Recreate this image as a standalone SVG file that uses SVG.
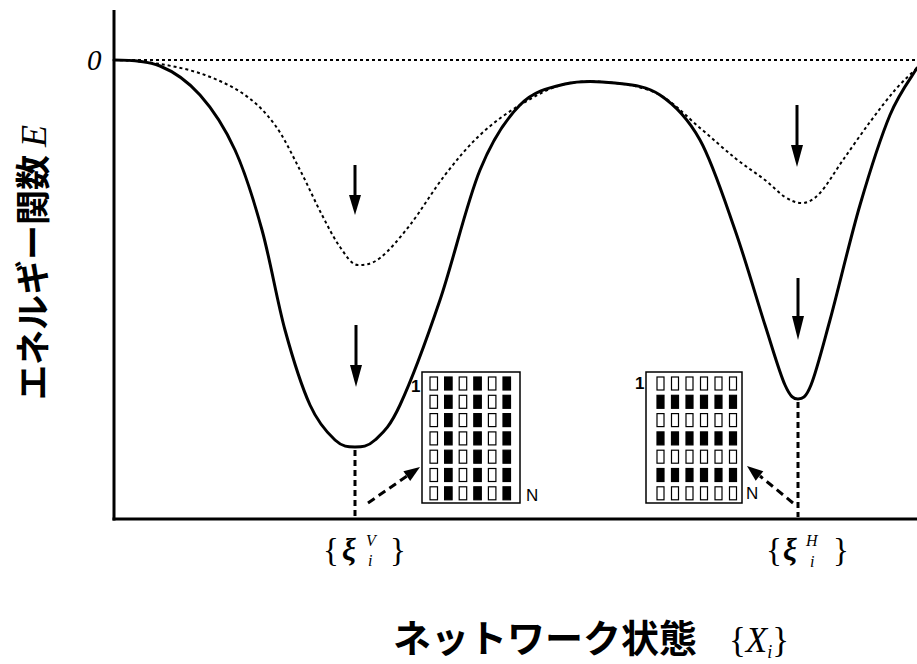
<svg xmlns="http://www.w3.org/2000/svg" width="917" height="664" viewBox="0 0 917 664">
<style>
.ax{stroke:#000;stroke-width:3;fill:none}
.solid{stroke:#000;stroke-width:3;fill:none;stroke-linecap:round}
.dot{stroke:#000;stroke-width:2;fill:none;stroke-dasharray:3 3}
.vdash{stroke:#000;stroke-width:3;fill:none;stroke-dasharray:6 4}
.ddash{stroke:#000;stroke-width:3;fill:none;stroke-dasharray:8 5}
.shaft{stroke:#000;stroke-width:3;fill:none}
.head{fill:#000}
.box{fill:#fff;stroke:#000;stroke-width:1.5}
.w{fill:#fff;stroke:#000;stroke-width:1.2}
.b{fill:#000;stroke:#000;stroke-width:1.2}
.lbl{font-family:"Liberation Sans",Arial,sans-serif;font-weight:bold;font-size:17px;fill:#000}
.nl{font-family:"Liberation Sans",Arial,sans-serif;font-size:17px;fill:#000}
.ser{font-family:"Liberation Serif","Times New Roman",serif;fill:#000}
.jp{font-family:"Noto Sans CJK JP","Noto Sans",sans-serif;font-weight:bold;fill:#000}
</style>
<rect width="917" height="664" fill="#fff"/>
<g id="axes">
<line class="ax" x1="114" y1="10" x2="114" y2="520.5"/>
<line class="ax" x1="112.5" y1="519" x2="917" y2="519"/>
<line class="dot" x1="114" y1="60" x2="917" y2="60"/>
<text class="ser" x="87" y="70" font-size="29" font-style="italic">0</text>
</g>
<g id="curves">
<path class="dot" d="M114,60 C122,60 144.8,61.5 160,64 C175.2,66.5 190.8,69.8 205,75 C219.2,80.2 233.3,86.7 245,95 C256.7,103.3 265.8,112.5 275,125 C284.2,137.5 292.2,155 300,170 C307.8,185 315.3,202.2 322,215 C328.7,227.8 334,238.7 340,247 C346,255.3 351.3,265 358,265 C364.7,265 371.3,264.7 380,258 C388.7,251.3 399.2,238.8 410,225 C420.8,211.2 433.3,190 445,175 C456.7,160 467.5,146.7 480,135 C492.5,123.3 505.8,113.5 520,105 C534.2,96.5 549.2,87.7 565,84 C580.8,80.3 599.2,81.2 615,83 C630.8,84.8 645.8,87.5 660,95 C674.2,102.5 687.5,117.5 700,128 C712.5,138.5 724.2,149.3 735,158 C745.8,166.7 756.7,173.5 765,180 C773.3,186.5 778.8,193.2 785,197 C791.2,200.8 796.2,203 802,203 C807.8,203 813.2,200.2 820,193 C826.8,185.8 834.7,171.8 843,160 C851.3,148.2 861.3,133.7 870,122 C878.7,110.3 887.2,99 895,90 C902.8,81 913.3,71.7 917,68"/>
<path class="solid" d="M114,60 C122,60 145.7,60.2 160,66 C174.3,71.8 187.5,81 200,95 C212.5,109 224.7,127.5 235,150 C245.3,172.5 253.7,200 262,230 C270.3,260 277,300.8 285,330 C293,359.2 301.7,386.7 310,405 C318.3,423.3 327.5,433 335,440 C342.5,447 348.3,447 355,447 C361.7,447 367.5,447 375,440 C382.5,433 389.2,428.3 400,405 C410.8,381.7 426.7,339.2 440,300 C453.3,260.8 466.7,202.5 480,170 C493.3,137.5 505.8,119.3 520,105 C534.2,90.7 549.2,87.7 565,84 C580.8,80.3 599.2,81.2 615,83 C630.8,84.8 645.8,85.5 660,95 C674.2,104.5 687.5,117.5 700,140 C712.5,162.5 724.2,199.2 735,230 C745.8,260.8 756.7,299.2 765,325 C773.3,350.8 779.5,372.7 785,385 C790.5,397.3 793.7,399 798,399 C802.3,399 805.7,398.2 811,385 C816.3,371.8 821.8,350 830,320 C838.2,290 850,239.2 860,205 C870,170.8 880.5,137.8 890,115 C899.5,92.2 912.5,75.8 917,68"/>
</g>
<g id="connectors">
<line class="shaft" x1="355" y1="165" x2="355" y2="198"/>
<polygon class="head" points="349,195 361,195 355,215"/>
<line class="shaft" x1="356" y1="325" x2="356" y2="368"/>
<polygon class="head" points="350,365 362,365 356,387"/>
<line class="shaft" x1="797" y1="105" x2="797" y2="148"/>
<polygon class="head" points="791,145 803,145 797,167"/>
<line class="shaft" x1="798" y1="278" x2="798" y2="319"/>
<polygon class="head" points="792,316 804,316 798,340"/>
<line class="vdash" x1="355" y1="450" x2="355" y2="517"/>
<line class="vdash" x1="798" y1="402" x2="798" y2="517"/>
<line class="ddash" x1="368" y1="503" x2="407" y2="476"/>
<polygon class="head" points="420,467 410.2,481 403.4,471.2"/>
<line class="ddash" x1="793" y1="503" x2="760" y2="476"/>
<polygon class="head" points="747,466 763.3,471.3 755.7,480.7"/>
</g>
<g id="node-vertical">
<rect class="box" x="422" y="372" width="98" height="131"/>
<text class="lbl" x="411" y="392">1</text>
<text class="nl" x="526" y="501">N</text>
<g id="vcells">
<rect class="w" x="430" y="377" width="7.5" height="13"/><rect class="b" x="444.6" y="377" width="7.5" height="13"/><rect class="w" x="459.2" y="377" width="7.5" height="13"/><rect class="b" x="473.8" y="377" width="7.5" height="13"/><rect class="w" x="488.4" y="377" width="7.5" height="13"/><rect class="b" x="503" y="377" width="7.5" height="13"/>
<rect class="w" x="430" y="395.3" width="7.5" height="13"/><rect class="b" x="444.6" y="395.3" width="7.5" height="13"/><rect class="w" x="459.2" y="395.3" width="7.5" height="13"/><rect class="b" x="473.8" y="395.3" width="7.5" height="13"/><rect class="w" x="488.4" y="395.3" width="7.5" height="13"/><rect class="b" x="503" y="395.3" width="7.5" height="13"/>
<rect class="w" x="430" y="413.6" width="7.5" height="13"/><rect class="b" x="444.6" y="413.6" width="7.5" height="13"/><rect class="w" x="459.2" y="413.6" width="7.5" height="13"/><rect class="b" x="473.8" y="413.6" width="7.5" height="13"/><rect class="w" x="488.4" y="413.6" width="7.5" height="13"/><rect class="b" x="503" y="413.6" width="7.5" height="13"/>
<rect class="w" x="430" y="431.9" width="7.5" height="13"/><rect class="b" x="444.6" y="431.9" width="7.5" height="13"/><rect class="w" x="459.2" y="431.9" width="7.5" height="13"/><rect class="b" x="473.8" y="431.9" width="7.5" height="13"/><rect class="w" x="488.4" y="431.9" width="7.5" height="13"/><rect class="b" x="503" y="431.9" width="7.5" height="13"/>
<rect class="w" x="430" y="450.2" width="7.5" height="13"/><rect class="b" x="444.6" y="450.2" width="7.5" height="13"/><rect class="w" x="459.2" y="450.2" width="7.5" height="13"/><rect class="b" x="473.8" y="450.2" width="7.5" height="13"/><rect class="w" x="488.4" y="450.2" width="7.5" height="13"/><rect class="b" x="503" y="450.2" width="7.5" height="13"/>
<rect class="w" x="430" y="468.5" width="7.5" height="13"/><rect class="b" x="444.6" y="468.5" width="7.5" height="13"/><rect class="w" x="459.2" y="468.5" width="7.5" height="13"/><rect class="b" x="473.8" y="468.5" width="7.5" height="13"/><rect class="w" x="488.4" y="468.5" width="7.5" height="13"/><rect class="b" x="503" y="468.5" width="7.5" height="13"/>
<rect class="w" x="430" y="486.8" width="7.5" height="13"/><rect class="b" x="444.6" y="486.8" width="7.5" height="13"/><rect class="w" x="459.2" y="486.8" width="7.5" height="13"/><rect class="b" x="473.8" y="486.8" width="7.5" height="13"/><rect class="w" x="488.4" y="486.8" width="7.5" height="13"/><rect class="b" x="503" y="486.8" width="7.5" height="13"/>
</g>
</g>
<g id="node-horizontal">
<rect class="box" x="646" y="372" width="96" height="131"/>
<text class="lbl" x="635" y="389">1</text>
<text class="nl" x="746" y="499">N</text>
<g id="hcells">
<rect class="w" x="657" y="377" width="7" height="13"/><rect class="w" x="671.5" y="377" width="7" height="13"/><rect class="w" x="686" y="377" width="7" height="13"/><rect class="w" x="700.5" y="377" width="7" height="13"/><rect class="w" x="715" y="377" width="7" height="13"/><rect class="w" x="729.5" y="377" width="7" height="13"/>
<rect class="b" x="657" y="395.3" width="7" height="13"/><rect class="b" x="671.5" y="395.3" width="7" height="13"/><rect class="b" x="686" y="395.3" width="7" height="13"/><rect class="b" x="700.5" y="395.3" width="7" height="13"/><rect class="b" x="715" y="395.3" width="7" height="13"/><rect class="b" x="729.5" y="395.3" width="7" height="13"/>
<rect class="w" x="657" y="413.6" width="7" height="13"/><rect class="w" x="671.5" y="413.6" width="7" height="13"/><rect class="w" x="686" y="413.6" width="7" height="13"/><rect class="w" x="700.5" y="413.6" width="7" height="13"/><rect class="w" x="715" y="413.6" width="7" height="13"/><rect class="w" x="729.5" y="413.6" width="7" height="13"/>
<rect class="b" x="657" y="431.9" width="7" height="13"/><rect class="b" x="671.5" y="431.9" width="7" height="13"/><rect class="b" x="686" y="431.9" width="7" height="13"/><rect class="b" x="700.5" y="431.9" width="7" height="13"/><rect class="b" x="715" y="431.9" width="7" height="13"/><rect class="b" x="729.5" y="431.9" width="7" height="13"/>
<rect class="w" x="657" y="450.2" width="7" height="13"/><rect class="w" x="671.5" y="450.2" width="7" height="13"/><rect class="w" x="686" y="450.2" width="7" height="13"/><rect class="w" x="700.5" y="450.2" width="7" height="13"/><rect class="w" x="715" y="450.2" width="7" height="13"/><rect class="w" x="729.5" y="450.2" width="7" height="13"/>
<rect class="b" x="657" y="468.5" width="7" height="13"/><rect class="b" x="671.5" y="468.5" width="7" height="13"/><rect class="b" x="686" y="468.5" width="7" height="13"/><rect class="b" x="700.5" y="468.5" width="7" height="13"/><rect class="b" x="715" y="468.5" width="7" height="13"/><rect class="b" x="729.5" y="468.5" width="7" height="13"/>
<rect class="w" x="657" y="486.8" width="7" height="13"/><rect class="w" x="671.5" y="486.8" width="7" height="13"/><rect class="w" x="686" y="486.8" width="7" height="13"/><rect class="w" x="700.5" y="486.8" width="7" height="13"/><rect class="w" x="715" y="486.8" width="7" height="13"/><rect class="w" x="729.5" y="486.8" width="7" height="13"/>
</g>
</g>
<g id="labels">
<text class="ser" x="323" y="561" font-size="33">{</text>
<text class="ser" x="342" y="560" font-size="31" font-style="italic" font-weight="bold">ξ</text>
<text class="ser" x="366" y="546" font-size="16" font-style="italic">V</text>
<text class="ser" x="368" y="566" font-size="16" font-style="italic">i</text>
<text class="ser" x="390" y="561" font-size="33">}</text>
<text class="ser" x="766" y="561" font-size="33">{</text>
<text class="ser" x="783" y="560" font-size="31" font-style="italic" font-weight="bold">ξ</text>
<text class="ser" x="806" y="546" font-size="16" font-style="italic">H</text>
<text class="ser" x="810" y="567" font-size="16" font-style="italic">i</text>
<text class="ser" x="833" y="561" font-size="33">}</text>
<text class="jp" transform="translate(46,400) rotate(-90)" font-size="35">エネルギー関数 <tspan class="ser" font-style="italic" font-weight="normal" font-size="36">E</tspan></text>
<text class="jp" x="393" y="652" font-size="38">ネットワーク状態</text>
<text class="ser" x="729" y="652" font-size="35">{<tspan font-style="italic">X</tspan><tspan font-style="italic" font-size="18" dy="6">i</tspan><tspan dy="-6">}</tspan></text>
</g>
</svg>
